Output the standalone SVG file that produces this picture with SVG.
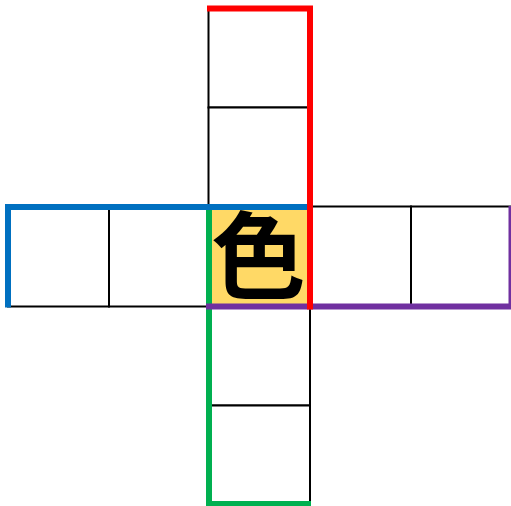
<svg xmlns="http://www.w3.org/2000/svg" width="511" height="506" viewBox="0 0 511 506">
<style>
.cell{fill:#fff;stroke:#000;stroke-width:2}
.center{fill:#FFD966;stroke:none}
.edge{fill:none;stroke-width:6;stroke-linecap:butt;stroke-linejoin:miter}
.ch{font-family:"Noto Sans CJK JP","Noto Sans CJK SC",sans-serif;font-weight:bold;font-size:94px;fill:#000}
</style>
<rect width="511" height="506" fill="#fff"/>
<g id="top1"><rect class="cell" x="208.5" y="8.5" width="101.5" height="99"/></g>
<g id="top2"><rect class="cell" x="208.5" y="107.5" width="101.5" height="99.5"/></g>
<g id="left1"><rect class="cell" x="8" y="207" width="101" height="99.5"/></g>
<g id="left2"><rect class="cell" x="109" y="207" width="99.5" height="99.5"/></g>
<g id="right1"><rect class="cell" x="310" y="206.5" width="101" height="100"/></g>
<g id="right2"><rect class="cell" x="411" y="206.5" width="100" height="100"/></g>
<g id="bottom1"><rect class="cell" x="208.5" y="306.5" width="101.5" height="99"/></g>
<g id="bottom2"><rect class="cell" x="208.5" y="405.5" width="101.5" height="98.5"/></g>
<g id="center">
<rect class="center" x="209" y="207" width="101" height="99.5"/>
<text class="ch" x="258.5" y="291" text-anchor="middle">色</text>
</g>
<g id="connectors">
<path class="edge" stroke="#00B050" d="M209,210 V504 H311"/>
<path class="edge" stroke="#7030A0" d="M206,306.5 H511.5 V206"/>
<path class="edge" stroke="#0070C0" d="M8,307.5 V207 H308"/>
<path class="edge" stroke="#FF0000" d="M207,8.5 H310 V309.5"/>
</g>
</svg>
